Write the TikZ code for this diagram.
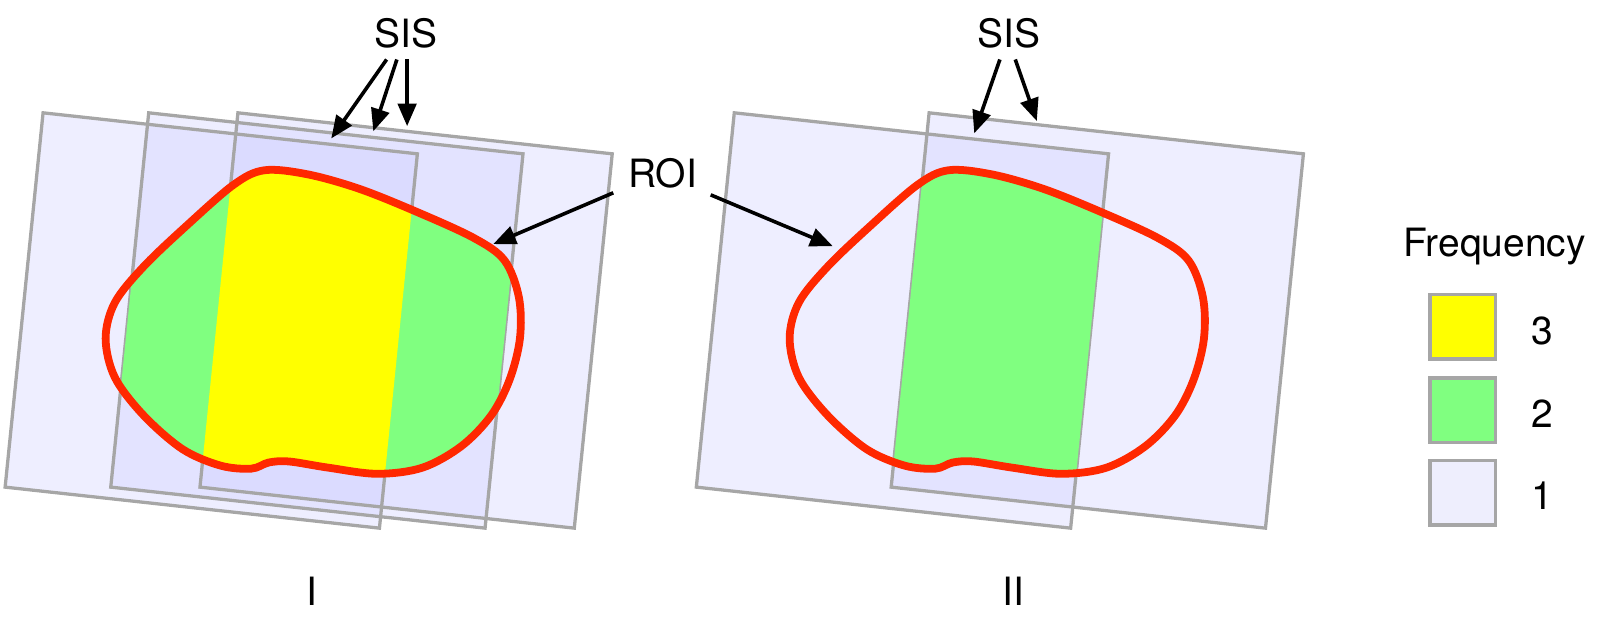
\documentclass[tikz,border=0pt]{standalone}
\usepackage{fontspec}
\setmainfont{TeX Gyre Heros}
\usetikzlibrary{arrows.meta}
\definecolor{framegray}{RGB}{166,166,166}
\definecolor{lav}{RGB}{204,204,255}
\definecolor{lavsolid}{RGB}{238,238,253}
\definecolor{roired}{RGB}{255,40,0}
\definecolor{freqgreen}{RGB}{128,255,128}
\definecolor{freqyellow}{RGB}{255,255,0}
\newcommand{\sqpath}[2]{(#1,#2) -- ++(365,40) -- ++(-37,365) -- ++(-365,-40) -- cycle}
\newcommand{\blobpath}{plot[smooth cycle,tension=0.55] coordinates {(228,180) (258,166) (300,170) (350,184) (405,206) (462,232) (492,254) (506,290) (507,330) (497,370) (479,405) (450,435) (412,456) (368,462) (320,456) (282,450) (262,451) (245,457) (215,454) (178,438) (140,405) (112,368) (103,330) (112,295) (140,260) (182,220)}}
\begin{document}
\begin{tikzpicture}[x=0.5pt,y=-0.5pt,
  sheetfill/.style={fill=lav,fill opacity=0.33},
  sheetline/.style={draw=framegray,line width=1.6pt,line join=miter},
  roiline/.style={draw=roired,line width=3.8pt},
  lbl/.style={font=\fontsize{19}{23}\selectfont,anchor=base,inner sep=0pt},
  arr/.style={line width=1.75pt,-{Triangle[length=11pt,width=9pt]}},
  keybox/.style={draw=framegray,line width=1.6pt,minimum width=32pt,minimum height=31.5pt,inner sep=0pt}]
\useasboundingbox (0,0) rectangle (1568,601);

% ---------- panel I ----------
\fill[sheetfill] \sqpath{42}{110};
\fill[sheetfill] \sqpath{145}{110};
\fill[sheetfill] \sqpath{232}{110};
\draw[sheetline] \sqpath{42}{110};
\draw[sheetline] \sqpath{145}{110};
\draw[sheetline] \sqpath{232}{110};
\begin{scope}
  \clip \blobpath;
  \begin{scope}
    \clip \sqpath{145}{110};
    \fill[freqgreen] \sqpath{42}{110};
    \fill[freqgreen] \sqpath{232}{110};
    \clip \sqpath{42}{110};
    \fill[freqyellow] \sqpath{232}{110};
  \end{scope}
\end{scope}
\draw[roiline] \blobpath;

% ---------- panel II ----------
\begin{scope}[shift={(674,0)}]
  \fill[sheetfill] \sqpath{42}{110};
  \fill[sheetfill] \sqpath{232}{110};
  \draw[sheetline] \sqpath{42}{110};
  \draw[sheetline] \sqpath{232}{110};
  \begin{scope}
    \clip[shift={(-7,0)}] \blobpath;
    \clip \sqpath{42}{110};
    \fill[freqgreen] \sqpath{232}{110};
  \end{scope}
\end{scope}
\draw[roiline,shift={(667,0)}] \blobpath;

% ---------- labels ----------
\node[lbl] (sisL) at (395.5,46) {SIS};
\node[lbl] (sisR) at (984,46) {SIS};
\node[lbl] (roi) at (646,183) {ROI};
\node[lbl] (panelI) at (304,590) {I};
\node[lbl] (panelII) at (988,590) {II};

\coordinate (sL1) at (377,58);
\coordinate (sL2) at (387,58);
\coordinate (sL3) at (397,58);
\coordinate (tL1) at (323,135);
\coordinate (tL2) at (364,128);
\coordinate (tL3) at (397,123);
\draw[arr] (sL1) -- (tL1);
\draw[arr] (sL2) -- (tL2);
\draw[arr] (sL3) -- (tL3);

\coordinate (sR1) at (975,58);
\coordinate (sR2) at (990,58);
\coordinate (tR1) at (950,130);
\coordinate (tR2) at (1011,118);
\draw[arr] (sR1) -- (tR1);
\draw[arr] (sR2) -- (tR2);

\coordinate (rL) at (598,188);
\coordinate (rR) at (693,190);
\coordinate (tRoiL) at (481,238);
\coordinate (tRoiR) at (812,240);
\draw[arr] (rL) -- (tRoiL);
\draw[arr] (rR) -- (tRoiR);

% ---------- legend ----------
\node[lbl] (freq) at (1457.5,250) {Frequency};
\node[keybox,fill=freqyellow] (k3) at (1426.5,318.5) {};
\node[keybox,fill=freqgreen] (k2) at (1426.5,400) {};
\node[keybox,fill=lavsolid] (k1) at (1426.5,480.5) {};
\node[lbl] (n3) at (1504,335.5) {3};
\node[lbl] (n2) at (1504,417) {2};
\node[lbl] (n1) at (1504,497) {1};
\end{tikzpicture}
\end{document}
